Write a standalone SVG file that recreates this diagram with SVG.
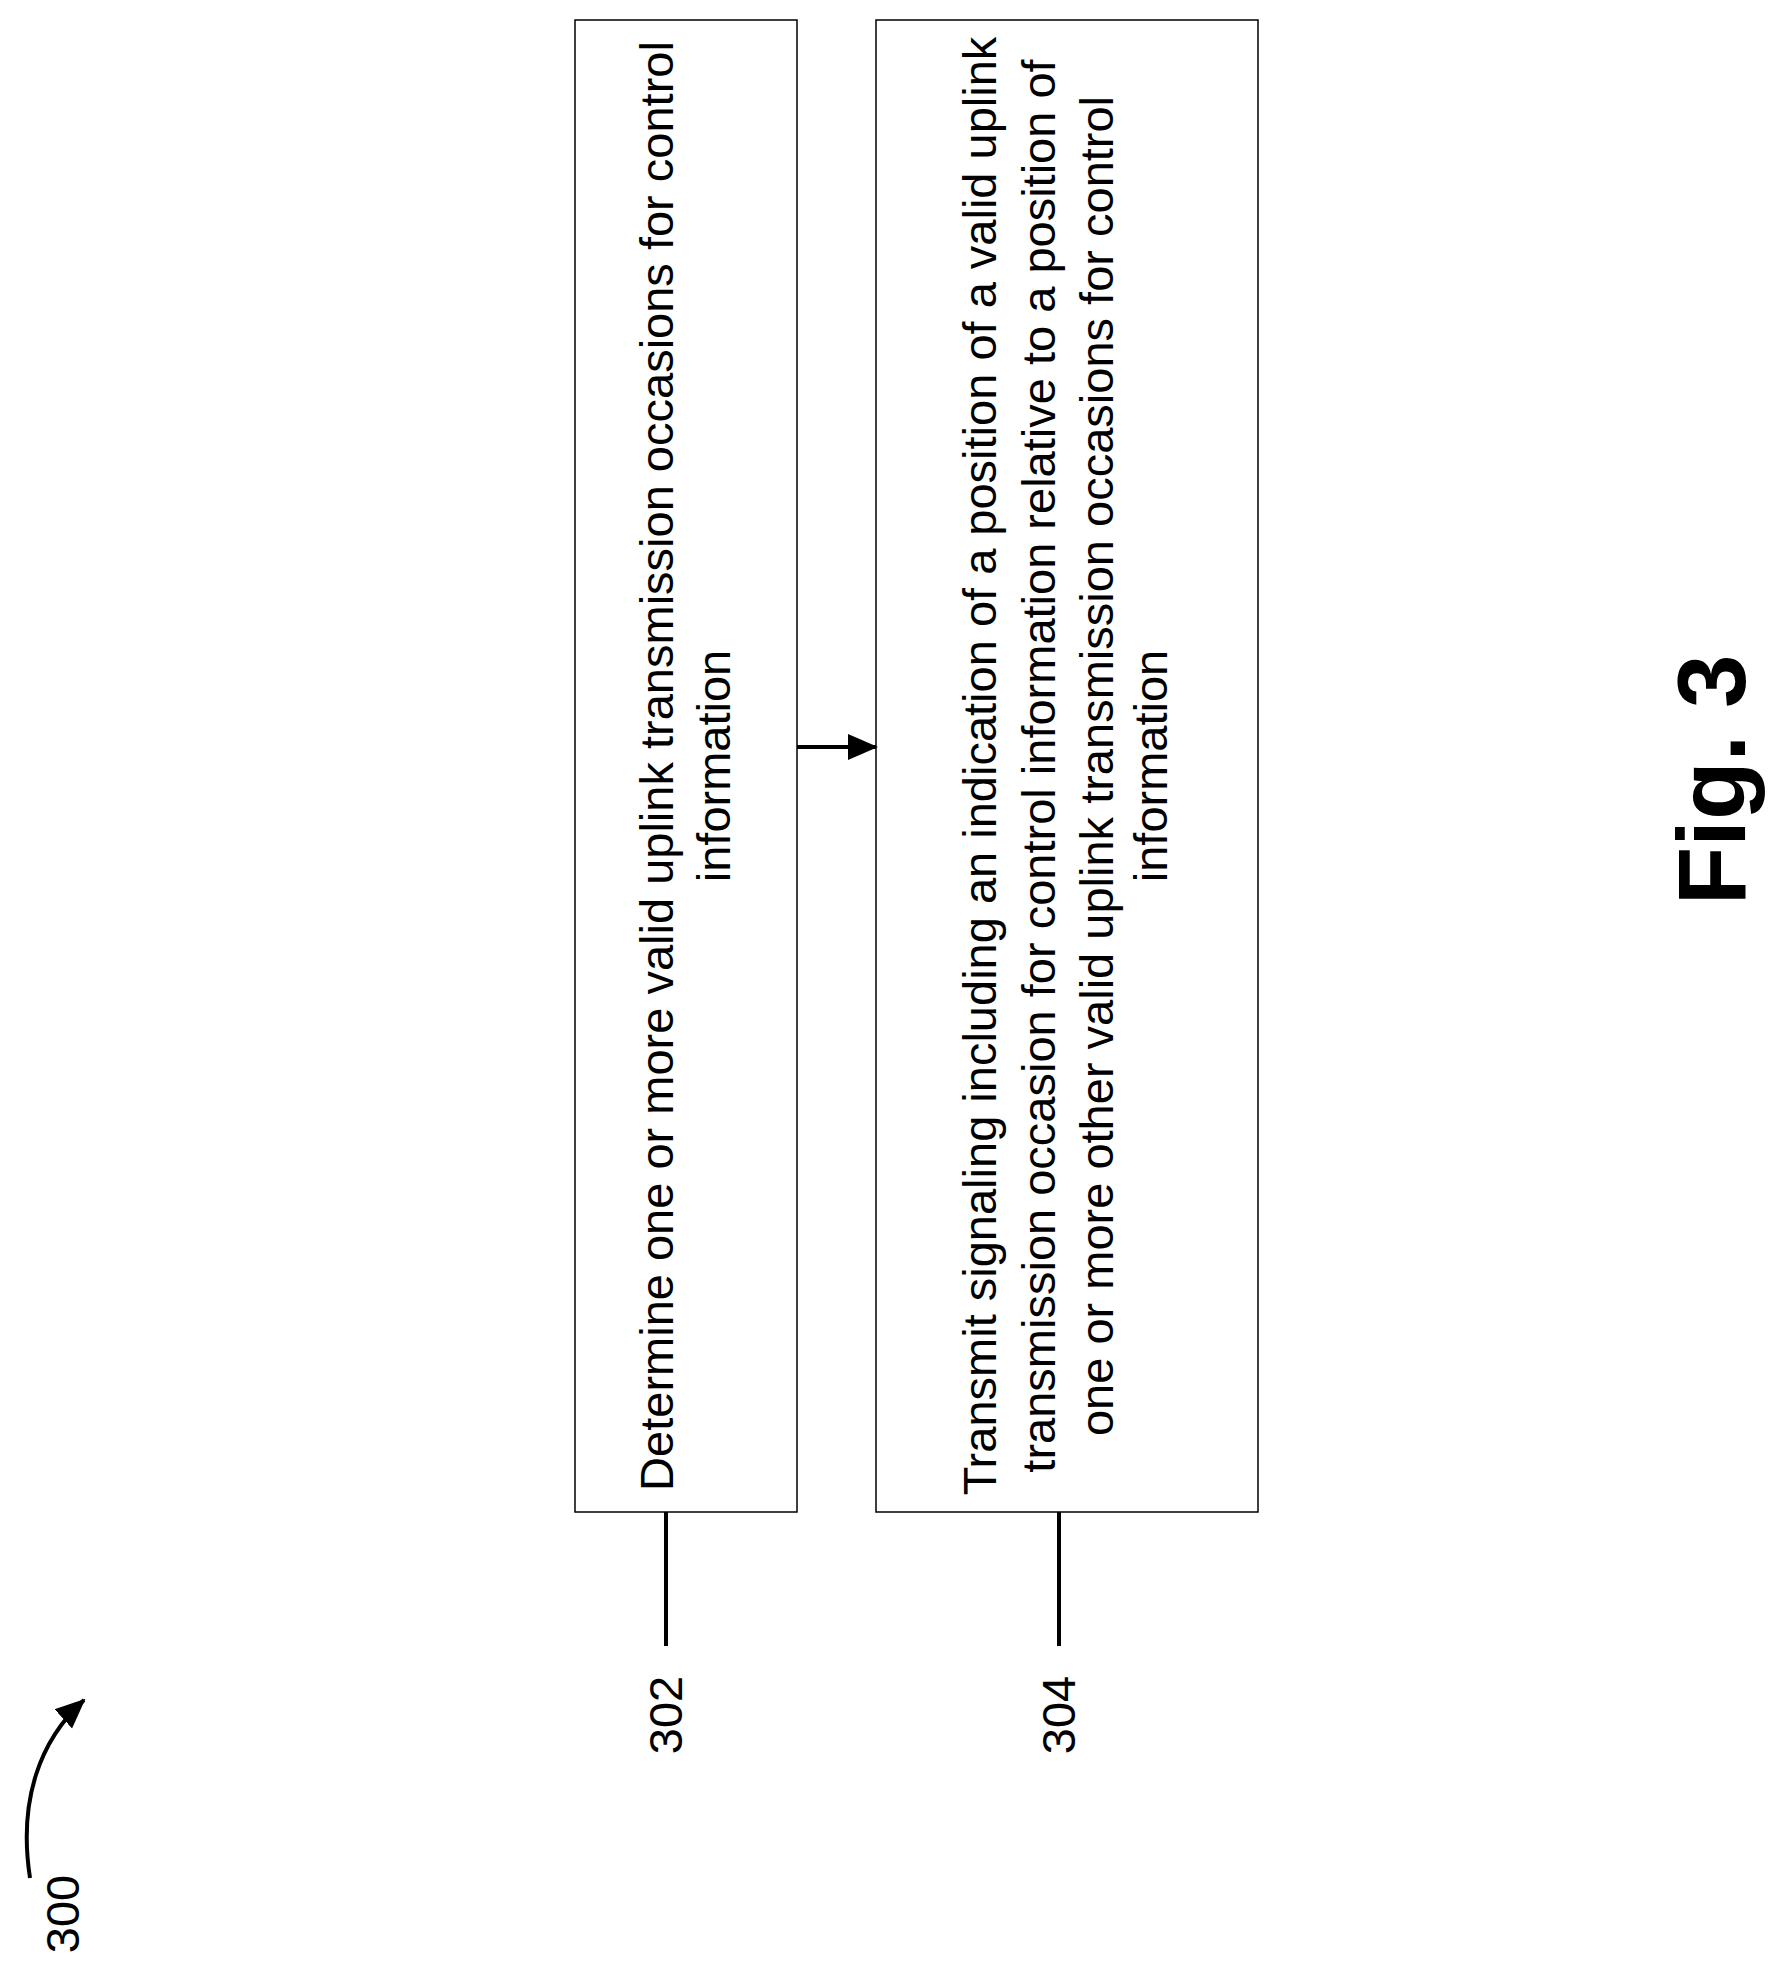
<svg xmlns="http://www.w3.org/2000/svg" width="1775" height="1967" viewBox="0 0 1775 1967">
<style>
.box{fill:#fff;stroke:#000;stroke-width:1.5}
.t{font-family:"Liberation Sans",Arial,sans-serif;font-size:47px;fill:#000;text-anchor:middle}
.ln{stroke:#000;stroke-width:4;fill:none}
</style>
<defs>
<marker id="ah2" markerWidth="30" markerHeight="30" refX="28" refY="15" orient="auto" markerUnits="userSpaceOnUse" viewBox="0 0 30 30"><path d="M0,2L30,15L0,28z"/></marker></defs>
<rect width="1775" height="1967" fill="#fff"/>
<g id="n302">
<rect class="box" x="575" y="20" width="222" height="1492"/>
<g transform="translate(0,766) rotate(-90)">
<text class="t" x="0" y="673">Determine one or more valid uplink transmission occasions for control</text>
<text class="t" x="0" y="730">information</text>
</g>
<text class="t" transform="translate(682,1715) rotate(-90)">302</text>
</g>
<g id="n304">
<rect class="box" x="876" y="20" width="382" height="1492"/>
<g transform="translate(0,766) rotate(-90)">
<text class="t" x="0" y="996">Transmit signaling including an indication of a position of a valid uplink</text>
<text class="t" x="0" y="1055">transmission occasion for control information relative to a position of</text>
<text class="t" x="0" y="1113">one or more other valid uplink transmission occasions for control</text>
<text class="t" x="0" y="1167">information</text>
</g>
<text class="t" transform="translate(1075,1715) rotate(-90)">304</text>
</g>
<g id="fig"><text transform="translate(1745,780) rotate(-90)" style="font-family:'Liberation Sans',Arial,sans-serif;font-size:96px;font-weight:bold;text-anchor:middle">Fig. 3</text></g>
<g id="n300"><text class="t" transform="translate(79,1914) rotate(-90)">300</text></g>
<g id="connectors">
<line class="ln" x1="797" y1="747" x2="876" y2="747" stroke-width="3" marker-end="url(#ah2)"/>
<line class="ln" x1="666" y1="1512" x2="666" y2="1646"/>
<line class="ln" x1="1059" y1="1512" x2="1059" y2="1646"/>
<path class="ln" stroke-width="3" d="M30,1878 C18,1800 40,1740 84,1700" marker-end="url(#ah2)"/>
</g>
</svg>
